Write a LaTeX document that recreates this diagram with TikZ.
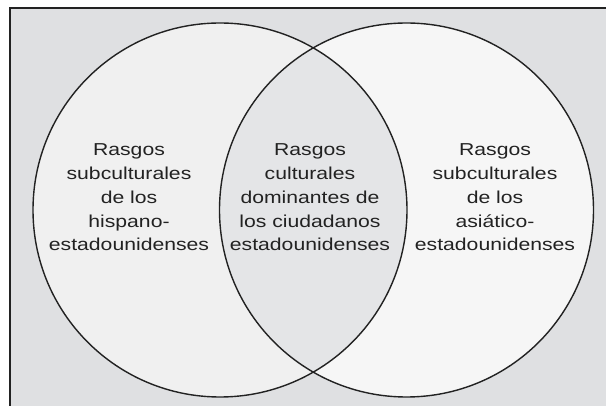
\documentclass[tikz,border=0pt]{standalone}
\usepackage{fontspec}
\usepackage{graphicx}
\setmainfont{Liberation Sans}
\definecolor{bggray}{HTML}{DFE0E2}
\definecolor{leftfill}{HTML}{F0F0F0}
\definecolor{rightfill}{HTML}{F6F6F6}
\definecolor{midfill}{HTML}{E4E5E7}
\definecolor{inkc}{HTML}{222222}
\newcommand{\vtext}[1]{\scalebox{1.47}[1.2]{\fontsize{14.4}{19.8}\selectfont\begin{tabular}{@{}c@{}}#1\end{tabular}}}
\begin{document}
\begin{tikzpicture}[x=1pt,y=-1pt,
  ring/.style={circle, minimum size=374pt, inner sep=0pt, draw=inkc, line width=1.4pt},
  txt/.style={inner sep=0pt, text=inkc}]
\useasboundingbox (0,0) rectangle (606,406);
\clip (0,0) rectangle (606,406);
% frame (right and bottom edges fall outside the picture)
\draw[draw=inkc, line width=2pt, fill=bggray] (10,8) rectangle (640,440);
% circle fills
\fill[leftfill] (220,210) circle[radius=187];
\fill[rightfill] (406.5,210) circle[radius=187];
\begin{scope}
  \clip (220,210) circle[radius=187];
  \fill[midfill] (406.5,210) circle[radius=187];
\end{scope}
% outlines
\node[ring] (L) at (220,210) {};
\node[ring] (R) at (406.5,210) {};
% texts
\node[txt] (tl) at (129,198.5) {\vtext{Rasgos\\subculturales\\de los\\hispano-\\estadounidenses}};
\node[txt] (tm) at (310,198.5) {\vtext{Rasgos\\culturales\\dominantes de\\los ciudadanos\\estadounidenses}};
\node[txt] (tr) at (495,198.5) {\vtext{Rasgos\\subculturales\\de los\\asiático-\\estadounidenses}};
\end{tikzpicture}
\end{document}
